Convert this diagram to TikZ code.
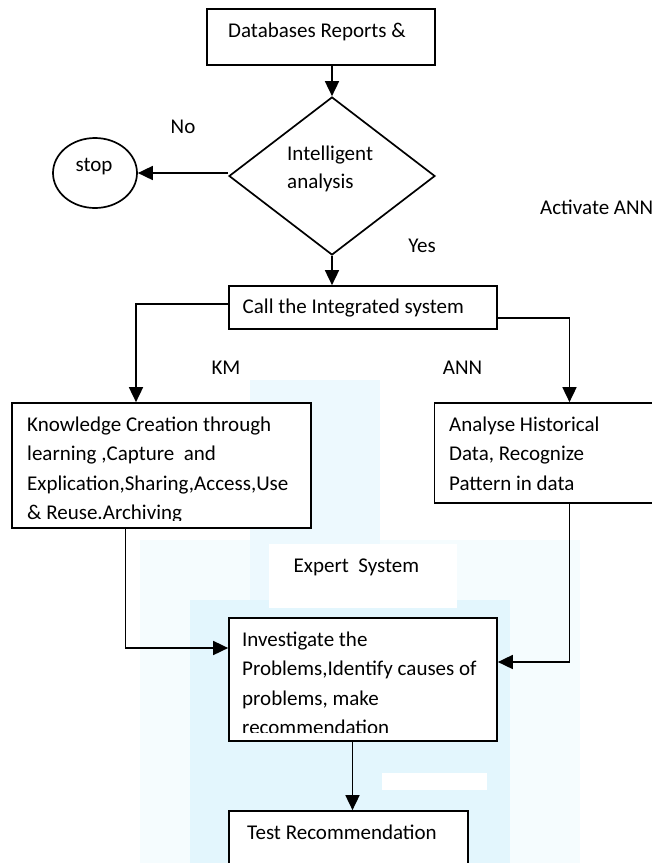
\documentclass[tikz,border=0pt]{standalone}
\usepackage{fontspec}
\setmainfont{Carlito}
\usetikzlibrary{shapes.geometric,arrows.meta}
\begin{document}
\begin{tikzpicture}[x=1pt,y=-1pt,font=\fontsize{21}{29.5}\selectfont]
    \tikzstyle{box}=[rectangle, draw, fill=white, line width=1.7pt, inner sep=0pt]
    \tikzstyle{txt}=[anchor=base west, inner sep=0pt, align=left]
    \tikzstyle{lbl}=[inner sep=0pt]
    \tikzstyle{arr}=[line width=1.7pt, -{Triangle[length=15pt,width=14pt]}]
    \useasboundingbox (0,0) rectangle (652,863);

    % faint watermark behind the chart
    \fill[cyan!4] (140,540) rectangle (580,863);
    \fill[cyan!11] (190,600) rectangle (510,863);
    \fill[cyan!7] (250,380) rectangle (380,600);
    \fill[white] (269,544) rectangle (457,608);
    \fill[white] (382,773) rectangle (487,790);

    \node[box, minimum width=228pt, minimum height=56pt] (db) at (321,37) {};
    \node[txt] (dbt) at (228,37) {Databases Reports \&};

    \node[draw, diamond, fill=white, line width=1.7pt, inner sep=0pt,
          minimum width=206pt, minimum height=158pt] (dia) at (332,176) {};
    \node[txt, font=\fontsize{21}{28}\selectfont] (diat) at (287,188.5) {Intelligent\\analysis};

    \node[draw, ellipse, line width=1.7pt, inner sep=0pt,
          minimum width=84pt, minimum height=70pt] (stop) at (95,173) {};
    \node[lbl] (stopt) at (94,167) {stop};

    \node[box, minimum width=268pt, minimum height=43pt] (call) at (363,307.5) {};
    \node[txt] (callt) at (242.5,313.5) {Call the Integrated system};

    \node[box, minimum width=299pt, minimum height=125pt] (km) at (161.5,465.5) {};
    \node[box, minimum width=270pt, minimum height=100pt] (ann) at (569.5,453) {};
    \node[box, minimum width=268pt, minimum height=123pt] (inv) at (363,679.5) {};
    \node[box, minimum width=239pt, minimum height=70pt] (test) at (348.5,846) {};

    \begin{scope}
        \clip (km.north west) rectangle (311,520.5);
        \node[txt] (kmt) at (27,519.8) {Knowledge Creation through\\learning ,Capture\ \ and\\Explication,Sharing,Access,Use\\\& Reuse.Archiving};
    \end{scope}
    \node[txt] (annt) at (449,490.3) {Analyse Historical\\Data, Recognize\\Pattern in data};
    \begin{scope}
        \clip (inv.north west) rectangle (497,732);
        \node[txt] (invt) at (242,734.8) {Investigate the\\Problems,Identify causes of\\problems, make\\recommendation};
    \end{scope}
    \node[txt] (testt) at (247,839.3) {Test Recommendation};

    \node[lbl] (no) at (183,127) {No};
    \node[lbl] (yes) at (422,246) {Yes};
    \node[lbl] (kml) at (226,368) {KM};
    \node[lbl] (annl) at (462.5,368) {ANN};
    \node[txt] (exp) at (293.5,572.3) {Expert\ \ System};
    \node[txt] (act) at (540,214.3) {Activate ANN};

    \draw[arr] (db.south -| dia.north) -- (dia.north);
    \draw[arr] ([yshift=3pt]dia.west) -- (stop.east);
    \draw[arr] (dia.south) -- (dia.south |- call.north);
    \draw[arr] ([yshift=3.5pt]call.west) -| ([xshift=-25.5pt]km.north);
    \draw[arr] ([yshift=-10.5pt]call.east) -| (ann.north);
    \draw[arr] ([xshift=-36pt]km.south) |- ([yshift=31.5pt]inv.west);
    \draw[arr] (ann.south) |- ([yshift=17.5pt]inv.east);
    \draw[arr] ([xshift=-10.5pt]inv.south) -- ([xshift=-10.5pt]inv.south |- test.north);
\end{tikzpicture}
\end{document}
